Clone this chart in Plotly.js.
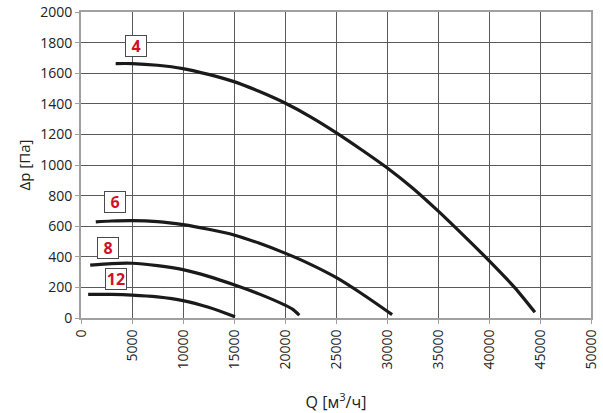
<!DOCTYPE html>
<html>
<head>
<meta charset="utf-8">
<script src="https://cdn.plot.ly/plotly-3.0.1.min.js"></script>
<style>html,body{margin:0;padding:0;background:#fff;}#chart{width:603px;height:413px;}</style>
</head>
<body>
<div id="chart"></div>
<script>
// Curve 4
const q4 = [3400, 5000, 7500, 10000, 12500, 15000, 17500, 20000, 22500, 25000, 27500, 30000, 32500, 35000, 37500, 40000, 42500, 44500];
const p4 = [1663, 1663, 1652, 1630, 1592, 1545, 1480, 1405, 1315, 1212, 1100, 982, 850, 700, 540, 375, 200, 37];
// Curve 6
const q6 = [1450, 3000, 5000, 7500, 10000, 12500, 15000, 17500, 20000, 22300, 25000, 27500, 30500];
const p6 = [628, 634, 637, 630, 610, 580, 543, 488, 424, 357, 265, 160, 22];
// Curve 8
const q8 = [900, 3000, 5000, 7500, 10000, 12500, 15000, 17500, 20000, 20800, 21400];
const p8 = [346, 356, 358, 342, 316, 272, 217, 156, 84, 55, 18];
// Curve 12
const q12 = [700, 3000, 5000, 7500, 10000, 12500, 15100];
const p12 = [154, 154, 150, 138, 114, 70, 8];

const labelText = ['4', '6', '8', '12'];
const labelQ = [5375, 3333, 2647, 3431];
const labelP = [1778, 755, 459, 252];

const xTicks = [0, 5000, 10000, 15000, 20000, 25000, 30000, 35000, 40000, 45000, 50000];
const yTicks = [0, 200, 400, 600, 800, 1000, 1200, 1400, 1600, 1800, 2000];

const lineStyle = {color: '#1a1a1a', width: 3.2, shape: 'spline', smoothing: 0.8};
const traces = [[q4, p4], [q6, p6], [q8, p8], [q12, p12]].map(([x, y]) => ({
  x: x, y: y, type: 'scatter', mode: 'lines', line: lineStyle, hoverinfo: 'skip'
}));

const annotations = labelText.map((t, i) => ({
  x: labelQ[i], y: labelP[i], xref: 'x', yref: 'y',
  text: '<b>' + t + '</b>', showarrow: false,
  font: {family: 'Open Sans', size: 16, color: '#d0102a'},
  bgcolor: '#ffffff', bordercolor: '#4a4a4a', borderwidth: 1, borderpad: 0,
  width: 20, height: 20
}));

const axisBase = {
  showgrid: true, gridcolor: '#5a5a5a', gridwidth: 1,
  showline: true, linecolor: '#a0a0a0', linewidth: 2, mirror: true,
  ticks: 'outside', ticklen: 4, tickcolor: '#a0a0a0', tickwidth: 1,
  zeroline: false,
  tickfont: {family: 'Open Sans', size: 14, color: '#222'}
};

const layout = {
  width: 603, height: 413,
  margin: {l: 81, r: 12, t: 12, b: 95},
  paper_bgcolor: '#fff', plot_bgcolor: '#fff',
  showlegend: false,
  xaxis: Object.assign({}, axisBase, {
    range: [0, 50000], tickvals: xTicks, ticktext: xTicks.map(String),
    tickangle: -90,
    title: {text: 'Q [м<sup>3</sup>/ч]', font: {family: 'Open Sans', size: 16, color: '#222'}, standoff: 28}
  }),
  yaxis: Object.assign({}, axisBase, {
    range: [0, 2000], tickvals: yTicks, ticktext: yTicks.map(String),
    title: {text: 'Δp [Па]', font: {family: 'Open Sans', size: 15, color: '#222'}, standoff: 6}
  }),
  annotations: annotations
};

Plotly.newPlot('chart', traces, layout, {staticPlot: true, displayModeBar: false});
</script>
</body>
</html>
